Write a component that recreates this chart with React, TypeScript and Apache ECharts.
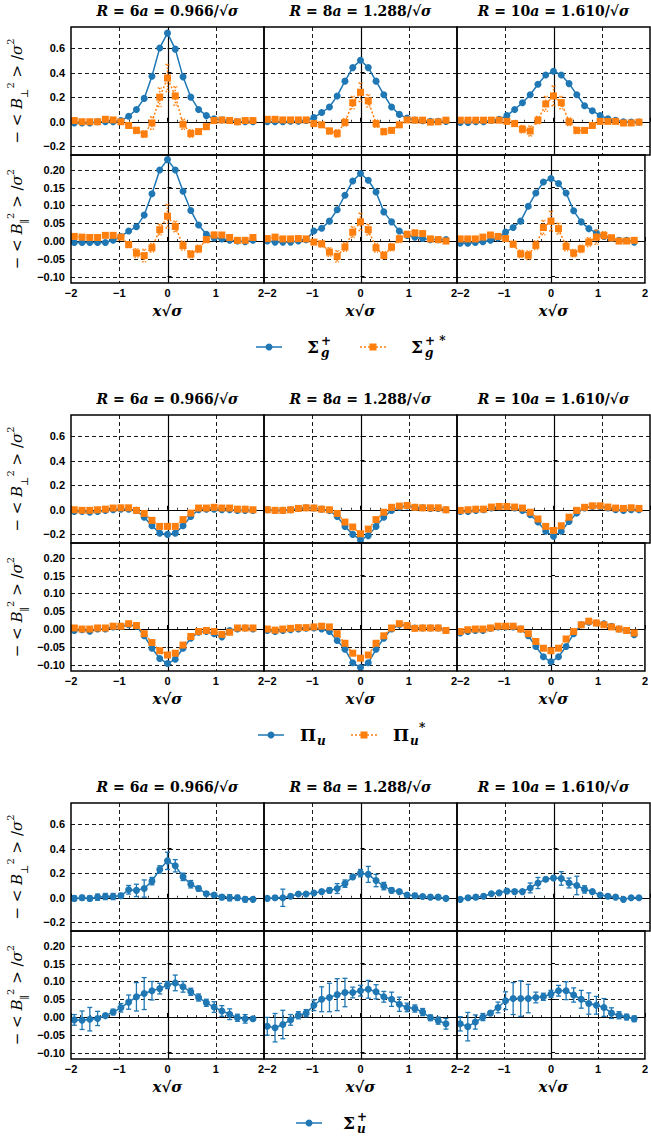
import React, { useEffect, useRef } from "react";
import * as echarts from "echarts";

// lattice positions x*sqrt(sigma) (k*a, a = 0.161)
const X_POS = [-1.932, -1.771, -1.61, -1.449, -1.288, -1.127, -0.966, -0.805, -0.644, -0.483, -0.322, -0.161, 0, 0.161, 0.322, 0.483, 0.644, 0.805, 0.966, 1.127, 1.288, 1.449, 1.61, 1.771];

const COL_TITLES = [
  ["6", "0.966"],
  ["8", "1.288"],
  ["10", "1.610"],
];
const Y_TICKS_PERP = [-0.2, 0, 0.2, 0.4, 0.6];
const Y_TICKS_PAR = [-0.1, -0.05, 0, 0.05, 0.1, 0.15, 0.2];

// ---------- Block 1 : Sigma_g^+ (blue) and Sigma_g^+* (orange) ----------
const SG_PERP_R6 = [-0.01, -0.01, -0.01, 0, 0, 0, 0.01, 0.045, 0.1, 0.19, 0.37, 0.6, 0.72, 0.59, 0.365, 0.2, 0.1, 0.05, 0.025, 0.015, 0.01, 0, 0, 0];
const SG_PERP_R8 = [0, 0, 0, 0.005, 0.005, 0.01, 0.035, 0.075, 0.12, 0.21, 0.33, 0.44, 0.5, 0.44, 0.33, 0.22, 0.12, 0.06, 0.03, 0.014, 0.008, 0.003, 0.003, 0.003];
const SG_PERP_R10 = [-0.005, -0.005, 0, 0, 0.013, 0.02, 0.05, 0.1, 0.155, 0.22, 0.305, 0.38, 0.41, 0.38, 0.31, 0.22, 0.13, 0.09, 0.05, 0.025, 0.013, 0, -0.003, -0.003];
const SGS_PERP_R6 = [0.01, 0, 0, 0, 0.02, 0.015, 0, -0.03, -0.07, -0.1, -0.01, 0.2, 0.355, 0.21, -0.02, -0.095, -0.08, -0.04, 0.01, 0.015, 0.01, 0, 0.01, 0.01];
const SGS_PERP_R8 = [0.02, 0.02, 0.015, 0.015, 0.015, 0.015, -0.015, -0.025, -0.075, -0.095, -0.005, 0.155, 0.24, 0.17, -0.015, -0.08, -0.07, -0.025, 0.015, 0.013, 0.013, -0.003, 0, 0.013];
const SGS_PERP_R10 = [0.013, 0.013, 0.013, 0.013, 0.013, 0.013, 0.003, -0.015, -0.06, -0.075, 0.013, 0.145, 0.21, 0.155, 0, -0.07, -0.07, -0.03, 0.003, 0.003, 0.003, -0.01, -0.01, -0.003];
const SGS_PERP_R6_ERR = [0.01, 0.01, 0.01, 0.01, 0.01, 0.01, 0.01, 0.015, 0.025, 0.025, 0.05, 0.075, 0.11, 0.075, 0.04, 0.03, 0.015, 0.015, 0.01, 0.01, 0.01, 0.01, 0.01, 0.01];
const SGS_PERP_R8_ERR = [0.01, 0.01, 0.01, 0.01, 0.01, 0.01, 0.015, 0.02, 0.025, 0.03, 0.03, 0.05, 0.075, 0.05, 0.03, 0.025, 0.02, 0.015, 0.01, 0.01, 0.01, 0.01, 0.01, 0.01];
const SGS_PERP_R10_ERR = [0.01, 0.01, 0.01, 0.01, 0.01, 0.01, 0.015, 0.02, 0.03, 0.04, 0.03, 0.06, 0.08, 0.05, 0.03, 0.025, 0.02, 0.015, 0.01, 0.01, 0.01, 0.01, 0.01, 0.01];

const SG_PAR_R6 = [-0.004, -0.004, -0.004, -0.004, -0.004, 0.002, 0.013, 0.028, 0.04, 0.073, 0.133, 0.2, 0.229, 0.2, 0.14, 0.086, 0.045, 0.019, 0.009, 0.006, 0.002, 0, -0.002, 0.002];
const SG_PAR_R8 = [0, -0.003, -0.003, -0.003, 0, 0.004, 0.028, 0.036, 0.056, 0.088, 0.129, 0.169, 0.19, 0.171, 0.138, 0.082, 0.054, 0.028, 0.016, 0.011, 0.007, 0.004, 0.004, 0.004];
const SG_PAR_R10 = [-0.006, -0.006, -0.004, -0.002, 0.002, 0.009, 0.025, 0.038, 0.056, 0.098, 0.135, 0.166, 0.176, 0.162, 0.135, 0.085, 0.054, 0.035, 0.023, 0.013, 0.007, 0.002, 0.002, -0.003];
const SGS_PAR_R6 = [0.013, 0.011, 0.01, 0.01, 0.016, 0.016, 0.011, -0.01, -0.034, -0.041, -0.019, 0.032, 0.07, 0.041, -0.013, -0.037, -0.022, 0.004, 0.017, 0.017, 0.01, 0.002, 0.002, 0.01];
const SGS_PAR_R8 = [0.007, 0.011, 0.006, 0.006, 0.007, 0.006, -0.003, -0.008, -0.031, -0.043, -0.017, 0.025, 0.054, 0.032, -0.019, -0.04, -0.017, 0.006, 0.019, 0.023, 0.021, 0.006, 0.004, 0];
const SGS_PAR_R10 = [0.006, 0.006, 0.006, 0.011, 0.017, 0.013, 0.007, -0.009, -0.036, -0.04, -0.012, 0.038, 0.056, 0.035, -0.015, -0.034, -0.022, -0.003, 0.011, 0.016, 0.009, 0, 0, 0.002];
const SGS_PAR_R6_ERR = [0.004, 0.004, 0.004, 0.004, 0.004, 0.004, 0.005, 0.008, 0.012, 0.017, 0.012, 0.015, 0.033, 0.015, 0.012, 0.01, 0.01, 0.008, 0.008, 0.005, 0.005, 0.005, 0.005, 0.005];
const SGS_PAR_R8_ERR = [0.004, 0.004, 0.004, 0.004, 0.004, 0.004, 0.006, 0.008, 0.012, 0.016, 0.012, 0.015, 0.024, 0.015, 0.012, 0.01, 0.01, 0.01, 0.008, 0.008, 0.005, 0.005, 0.005, 0.005];
const SGS_PAR_R10_ERR = [0.004, 0.004, 0.004, 0.004, 0.004, 0.004, 0.006, 0.008, 0.01, 0.012, 0.012, 0.02, 0.028, 0.015, 0.012, 0.01, 0.01, 0.012, 0.02, 0.01, 0.008, 0.005, 0.005, 0.005];

// ---------- Block 2 : Pi_u (blue) and Pi_u* (orange) ----------
const PU_PERP_R6 = [-0.014, -0.014, -0.02, -0.014, -0.006, 0, 0.005, 0.005, -0.005, -0.06, -0.13, -0.19, -0.2, -0.19, -0.13, -0.055, 0, 0.005, 0.005, 0, 0, -0.005, -0.005, -0.005];
const PU_PERP_R8 = [0, -0.005, -0.005, 0, 0.011, 0.016, 0.014, 0.005, -0.005, -0.055, -0.135, -0.2, -0.245, -0.21, -0.135, -0.06, -0.005, 0.02, 0.03, 0.02, 0.016, 0.011, 0.011, 0];
const PU_PERP_R10 = [-0.014, -0.014, -0.005, 0, 0.014, 0.022, 0.022, 0.014, -0.005, -0.04, -0.1, -0.175, -0.215, -0.175, -0.095, -0.027, 0.014, 0.027, 0.027, 0.014, 0, -0.005, 0, 0];
const PUS_PERP_R6 = [0, -0.005, -0.005, 0, 0.005, 0.014, 0.016, 0.016, -0.005, -0.03, -0.086, -0.135, -0.135, -0.135, -0.08, -0.027, 0.014, 0.014, 0.02, 0.014, 0.014, 0.005, 0.005, 0];
const PUS_PERP_R8 = [0, -0.005, -0.005, 0, 0.011, 0.016, 0.014, 0.005, 0, -0.03, -0.1, -0.14, -0.195, -0.157, -0.08, -0.02, 0.02, 0.03, 0.035, 0.02, 0.016, 0.016, 0.016, 0];
const PUS_PERP_R10 = [-0.005, 0, 0.005, 0.005, 0.022, 0.027, 0.027, 0.022, 0.014, -0.02, -0.075, -0.135, -0.168, -0.13, -0.06, -0.005, 0.02, 0.032, 0.032, 0.022, 0.014, 0.011, 0.016, 0.011];

const PU_PAR_R6 = [-0.004, -0.002, -0.006, 0, 0, 0.006, 0.008, 0.012, 0.008, -0.019, -0.054, -0.083, -0.097, -0.085, -0.054, -0.026, -0.009, -0.007, -0.013, -0.022, -0.004, 0, 0.003, 0];
const PU_PAR_R8 = [-0.004, -0.007, -0.004, -0.002, 0, 0.002, 0.003, 0, -0.007, -0.032, -0.057, -0.095, -0.108, -0.095, -0.057, -0.026, 0, 0.012, 0.01, 0.003, 0.003, 0.003, 0.003, -0.004];
const PU_PAR_R10 = [-0.011, -0.007, -0.004, -0.004, 0.002, 0.006, 0.006, 0.006, 0, -0.019, -0.049, -0.078, -0.092, -0.078, -0.049, -0.013, 0.012, 0.019, 0.017, 0.015, 0.008, 0, -0.004, -0.016];
const PUS_PAR_R6 = [0.003, 0, 0, 0.003, 0.003, 0.008, 0.008, 0.015, 0.01, -0.013, -0.038, -0.061, -0.073, -0.068, -0.045, -0.021, -0.007, -0.004, -0.007, -0.015, -0.009, 0.003, 0.003, 0.003];
const PUS_PAR_R8 = [0, -0.003, 0, 0.002, 0.004, 0.004, 0.006, 0.008, 0.006, -0.013, -0.04, -0.068, -0.082, -0.073, -0.04, -0.019, 0.003, 0.015, 0.01, 0.002, 0.003, 0.003, 0.003, -0.004];
const PUS_PAR_R10 = [-0.007, -0.002, 0, 0, 0.003, 0.008, 0.008, 0.008, 0, -0.013, -0.035, -0.054, -0.061, -0.054, -0.028, -0.007, 0.012, 0.022, 0.017, 0.012, 0.006, 0, -0.004, -0.011];

// ---------- Block 3 : Sigma_u^+ (blue, with error bars) ----------
const SU_PERP_R6 = [-0.005, 0, -0.005, 0.005, 0.01, 0.01, 0.016, 0.065, 0.06, 0.075, 0.135, 0.23, 0.3, 0.26, 0.17, 0.11, 0.075, 0.032, 0.022, 0.005, 0, 0, -0.013, -0.013];
const SU_PERP_R8 = [-0.005, 0, 0, 0.013, 0.03, 0.03, 0.038, 0.05, 0.06, 0.075, 0.115, 0.17, 0.2, 0.19, 0.14, 0.095, 0.06, 0.05, 0.022, 0.016, 0.011, 0.005, 0.005, -0.005];
const SU_PERP_R10 = [-0.013, 0, 0.005, 0.013, 0.032, 0.04, 0.054, 0.05, 0.05, 0.08, 0.12, 0.15, 0.16, 0.157, 0.12, 0.1, 0.068, 0.05, 0.022, 0.013, 0.005, -0.013, 0, 0];
const SU_PERP_R6_ERR = [0.02, 0.02, 0.02, 0.025, 0.025, 0.025, 0.02, 0.035, 0.05, 0.07, 0.03, 0.03, 0.07, 0.05, 0.03, 0.03, 0.02, 0.015, 0.015, 0.02, 0.025, 0.02, 0.02, 0.01];
const SU_PERP_R8_ERR = [0.01, 0.015, 0.07, 0.015, 0.01, 0.01, 0.01, 0.015, 0.02, 0.04, 0.03, 0.015, 0.03, 0.065, 0.05, 0.03, 0.02, 0.015, 0.015, 0.02, 0.015, 0.015, 0.015, 0.01];
const SU_PERP_R10_ERR = [0.01, 0.015, 0.015, 0.015, 0.01, 0.01, 0.015, 0.015, 0.015, 0.04, 0.045, 0.015, 0.015, 0.055, 0.04, 0.075, 0.03, 0.015, 0.01, 0.015, 0.01, 0.01, 0.01, 0.01];
const SU_PAR_R6 = [-0.008, -0.009, -0.006, -0.004, 0.004, 0.014, 0.026, 0.042, 0.057, 0.066, 0.074, 0.08, 0.09, 0.096, 0.085, 0.071, 0.055, 0.04, 0.028, 0.017, 0.008, -0.002, -0.005, -0.005];
const SU_PAR_R8 = [-0.026, -0.03, -0.021, -0.008, 0.005, 0.011, 0.033, 0.05, 0.055, 0.063, 0.069, 0.069, 0.074, 0.078, 0.071, 0.057, 0.05, 0.036, 0.027, 0.024, 0.014, -0.002, -0.01, -0.019];
const SU_PAR_R10 = [-0.019, -0.027, -0.014, 0, 0.011, 0.027, 0.046, 0.052, 0.052, 0.052, 0.055, 0.057, 0.065, 0.074, 0.074, 0.062, 0.05, 0.038, 0.033, 0.027, 0.011, 0.005, 0, -0.005];
const SU_PAR_R6_ERR = [0.015, 0.026, 0.033, 0.02, 0.005, 0.008, 0.012, 0.02, 0.04, 0.045, 0.026, 0.015, 0.01, 0.022, 0.015, 0.01, 0.01, 0.01, 0.015, 0.015, 0.015, 0.01, 0.012, 0.005];
const SU_PAR_R8_ERR = [0.025, 0.04, 0.04, 0.015, 0.01, 0.01, 0.015, 0.035, 0.04, 0.045, 0.04, 0.015, 0.015, 0.025, 0.02, 0.015, 0.02, 0.02, 0.012, 0.01, 0.01, 0.008, 0.01, 0.015];
const SU_PAR_R10_ERR = [0.02, 0.04, 0.02, 0.01, 0.005, 0.015, 0.025, 0.045, 0.05, 0.04, 0.015, 0.01, 0.01, 0.015, 0.025, 0.02, 0.025, 0.03, 0.025, 0.025, 0.015, 0.01, 0.008, 0.008];

const BLUE = "#1f77b4";
const ORANGE = "#ff7f0e";
const SERIF = "DejaVu Serif";
const SANS = "Liberation Sans";

// layout
const BLOCK_OFF = [0, 388, 776];
const COL_LEFT = [71, 264, 457];
const COL_W = 193;
const ROW_TOP = [27, 155];
const ROW_H = 128;
const RANGE_PERP = [-0.27, 0.77];
const RANGE_PAR = [-0.118, 0.242];

type Panel = { blue: number[]; blueErr?: number[]; orange?: number[]; orangeErr?: number[] };

const BLOCKS: Panel[][][] = [
  [
    [
      { blue: SG_PERP_R6, orange: SGS_PERP_R6, orangeErr: SGS_PERP_R6_ERR },
      { blue: SG_PERP_R8, orange: SGS_PERP_R8, orangeErr: SGS_PERP_R8_ERR },
      { blue: SG_PERP_R10, orange: SGS_PERP_R10, orangeErr: SGS_PERP_R10_ERR },
    ],
    [
      { blue: SG_PAR_R6, orange: SGS_PAR_R6, orangeErr: SGS_PAR_R6_ERR },
      { blue: SG_PAR_R8, orange: SGS_PAR_R8, orangeErr: SGS_PAR_R8_ERR },
      { blue: SG_PAR_R10, orange: SGS_PAR_R10, orangeErr: SGS_PAR_R10_ERR },
    ],
  ],
  [
    [
      { blue: PU_PERP_R6, orange: PUS_PERP_R6 },
      { blue: PU_PERP_R8, orange: PUS_PERP_R8 },
      { blue: PU_PERP_R10, orange: PUS_PERP_R10 },
    ],
    [
      { blue: PU_PAR_R6, orange: PUS_PAR_R6 },
      { blue: PU_PAR_R8, orange: PUS_PAR_R8 },
      { blue: PU_PAR_R10, orange: PUS_PAR_R10 },
    ],
  ],
  [
    [
      { blue: SU_PERP_R6, blueErr: SU_PERP_R6_ERR },
      { blue: SU_PERP_R8, blueErr: SU_PERP_R8_ERR },
      { blue: SU_PERP_R10, blueErr: SU_PERP_R10_ERR },
    ],
    [
      { blue: SU_PAR_R6, blueErr: SU_PAR_R6_ERR },
      { blue: SU_PAR_R8, blueErr: SU_PAR_R8_ERR },
      { blue: SU_PAR_R10, blueErr: SU_PAR_R10_ERR },
    ],
  ],
];

const minus = (s: string) => s.replace("-", "\u2212");

function gridLines(g: number, yTicks: number[]) {
  return {
    type: "custom",
    xAxisIndex: g,
    yAxisIndex: g,
    z: 1,
    silent: true,
    clip: false,
    data: [[0, 0]],
    renderItem: (params: any, api: any) => {
      const cs = params.coordSys;
      const children: any[] = [];
      [-1, 0, 1].forEach((xv) => {
        const px = Math.round(api.coord([xv, 0])[0]) + 0.5;
        const style: any = { stroke: "#000", lineWidth: xv === 0 ? 1.2 : 0.9 };
        if (xv !== 0) style.lineDash = [4, 3];
        children.push({ type: "line", shape: { x1: px, y1: cs.y, x2: px, y2: cs.y + cs.height }, style });
      });
      yTicks.forEach((yv) => {
        const py = Math.round(api.coord([0, yv])[1]) + 0.5;
        const style: any = { stroke: "#000", lineWidth: yv === 0 ? 1.2 : 0.9 };
        if (yv !== 0) style.lineDash = [4, 3];
        children.push({ type: "line", shape: { x1: cs.x, y1: py, x2: cs.x + cs.width, y2: py }, style });
      });
      return { type: "group", children };
    },
  };
}

function errorBars(g: number, vals: number[], errs: number[], color: string, dotted: boolean, z: number) {
  return {
    type: "custom",
    xAxisIndex: g,
    yAxisIndex: g,
    z,
    silent: true,
    clip: true,
    encode: { x: 0, y: 1 },
    data: X_POS.map((x, i) => [x, vals[i], errs[i]]),
    renderItem: (_params: any, api: any) => {
      const x = api.value(0);
      const y = api.value(1);
      const e = api.value(2);
      const t = api.coord([x, y + e]);
      const b = api.coord([x, y - e]);
      const style: any = { stroke: color, lineWidth: dotted ? 1.5 : 1.3 };
      if (dotted) style.lineDash = [1.5, 1.5];
      const cw = dotted ? 2 : 2.5;
      return {
        type: "group",
        children: [
          { type: "line", shape: { x1: t[0], y1: t[1], x2: b[0], y2: b[1] }, style },
          { type: "line", shape: { x1: t[0] - cw, y1: t[1], x2: t[0] + cw, y2: t[1] }, style },
          { type: "line", shape: { x1: b[0] - cw, y1: b[1], x2: b[0] + cw, y2: b[1] }, style },
        ],
      };
    },
  };
}

const MATH_RICH = {
  m: { fontFamily: SERIF, fontSize: 15, color: "#000", lineHeight: 24 },
  i: { fontFamily: SERIF, fontSize: 15, fontStyle: "italic", color: "#000", lineHeight: 24 },
  sup: { fontFamily: SERIF, fontSize: 10, color: "#000", verticalAlign: "top", lineHeight: 24 },
  sub: { fontFamily: SERIF, fontSize: 10, color: "#000", verticalAlign: "bottom", lineHeight: 24 },
};

function buildOption() {
  const grid: any[] = [];
  const xAxis: any[] = [];
  const yAxis: any[] = [];
  const series: any[] = [];
  const graphic: any[] = [];

  BLOCKS.forEach((block, b) => {
    const off = BLOCK_OFF[b];
    block.forEach((row, r) => {
      const yTicks = r === 0 ? Y_TICKS_PERP : Y_TICKS_PAR;
      const range = r === 0 ? RANGE_PERP : RANGE_PAR;
      row.forEach((panel, c) => {
        const g = grid.length;
        grid.push({
          left: COL_LEFT[c],
          top: off + ROW_TOP[r],
          width: COL_W,
          height: ROW_H,
          show: true,
          borderColor: "#000",
          borderWidth: 1.5,
          backgroundColor: "transparent",
          z: 5,
        });
        const xLabel: any = {
          show: r === 1,
          margin: 4,
          fontFamily: SANS,
          fontWeight: "bold",
          fontSize: 11,
          color: "#000",
          formatter: (v: number) => minus(String(v)),
        };
        if (c < 2) xLabel.alignMaxLabel = "right";
        if (c > 0) xLabel.alignMinLabel = "left";
        xAxis.push({
          gridIndex: g,
          type: "value",
          min: -2,
          max: 2,
          interval: 1,
          axisLine: { show: false },
          splitLine: { show: false },
          axisTick: { show: true, inside: true, length: 4, lineStyle: { color: "#000", width: 1 } },
          minorTick: { show: true, splitNumber: 5, length: 2, lineStyle: { color: "#000", width: 0.8 } },
          axisLabel: xLabel,
        });
        const yName =
          r === 0
            ? "{m|\u2212 < }{i|B}{sub|\u22a5}{sup|2}{m| > /}{i|\u03c3}{sup|2}"
            : "{m|\u2212 < }{i|B}{sub|\u2225}{sup|2}{m| > /}{i|\u03c3}{sup|2}";
        yAxis.push({
          gridIndex: g,
          type: "value",
          min: range[0],
          max: range[1],
          axisLine: { show: false },
          splitLine: { show: false },
          axisTick: { show: true, inside: true, length: 4, customValues: yTicks, lineStyle: { color: "#000", width: 1 } },
          axisLabel: {
            show: c === 0,
            customValues: yTicks,
            margin: 6,
            fontFamily: SANS,
            fontWeight: "bold",
            fontSize: 11,
            color: "#000",
            formatter: (v: number) => minus(v.toFixed(r === 0 ? 1 : 2)),
          },
          name: c === 0 ? yName : "",
          nameLocation: "middle",
          nameRotate: 90,
          nameGap: 42,
          nameTextStyle: { rich: MATH_RICH },
        });
        series.push(gridLines(g, yTicks));
        if (panel.blueErr) series.push(errorBars(g, panel.blue, panel.blueErr, BLUE, false, 3));
        series.push({
          type: "line",
          xAxisIndex: g,
          yAxisIndex: g,
          data: X_POS.map((x, i) => [x, panel.blue[i]]),
          symbol: "circle",
          symbolSize: 7,
          showSymbol: true,
          lineStyle: { color: BLUE, width: 1.5 },
          itemStyle: { color: BLUE },
          z: 3,
          silent: true,
        });
        if (panel.orange) {
          if (panel.orangeErr) series.push(errorBars(g, panel.orange, panel.orangeErr, ORANGE, true, 4));
          series.push({
            type: "line",
            xAxisIndex: g,
            yAxisIndex: g,
            data: X_POS.map((x, i) => [x, panel.orange![i]]),
            symbol: "rect",
            symbolSize: 7,
            showSymbol: true,
            lineStyle: { color: ORANGE, width: 1.5, type: [2, 2] },
            itemStyle: { color: ORANGE },
            z: 4,
            silent: true,
          });
        }
      });
    });

    // column titles and x titles
    COL_TITLES.forEach(([n, v], c) => {
      const cx = COL_LEFT[c] + COL_W / 2;
      graphic.push({
        type: "text",
        x: cx,
        y: off + 11,
        style: {
          text: `{i|R}{m| = ${n}}{i|a}{m| = ${v}/\u221a}{i|\u03c3}`,
          align: "center",
          verticalAlign: "middle",
          textAlign: "center",
          textVerticalAlign: "middle",
          rich: {
            m: { fontFamily: SERIF, fontSize: 14, fontWeight: "bold", color: "#000" },
            i: { fontFamily: SERIF, fontSize: 14, fontWeight: "bold", fontStyle: "italic", color: "#000" },
          },
        },
      });
      graphic.push({
        type: "text",
        x: cx,
        y: off + 311,
        style: {
          text: `{i|x}{m|\u221a}{i|\u03c3}`,
          align: "center",
          verticalAlign: "middle",
          textAlign: "center",
          textVerticalAlign: "middle",
          rich: {
            m: { fontFamily: SERIF, fontSize: 15, fontWeight: "bold", color: "#000" },
            i: { fontFamily: SERIF, fontSize: 15, fontWeight: "bold", fontStyle: "italic", color: "#000" },
          },
        },
      });
    });
  });

  // legends
  const txt = (x: number, y: number, text: string, font: string) => ({
    type: "text",
    x,
    y,
    style: { text, font, fill: "#000", align: "left", verticalAlign: "middle", textAlign: "left", textVerticalAlign: "middle" },
  });
  const sym = (x: number, y: number, color: string, square: boolean, dotted: boolean) => {
    const items: any[] = [];
    const ls: any = { stroke: color, lineWidth: 1.5 };
    if (dotted) ls.lineDash = [2, 2];
    items.push({ type: "line", shape: { x1: x - 13, y1: y, x2: x + 13, y2: y }, style: ls });
    if (square) items.push({ type: "rect", shape: { x: x - 3.5, y: y - 3.5, width: 7, height: 7 }, style: { fill: color } });
    else items.push({ type: "circle", shape: { cx: x, cy: y, r: 3.5 }, style: { fill: color } });
    return items;
  };
  const BASE_FONT = `bold 17px "${SERIF}"`;
  const SUB_FONT = `italic bold 12px "${SERIF}"`;
  const SUP_FONT = `bold 12px "${SERIF}"`;
  const L1 = BLOCK_OFF[0] + 347;
  graphic.push(...sym(269, L1, BLUE, false, false), txt(307, L1, "\u03a3", BASE_FONT), txt(321, L1 + 6, "g", SUB_FONT), txt(321, L1 - 6, "+", SUP_FONT));
  graphic.push(...sym(373, L1, ORANGE, true, true), txt(411, L1, "\u03a3", BASE_FONT), txt(425, L1 + 6, "g", SUB_FONT), txt(425, L1 - 6, "+ *", SUP_FONT));
  const L2 = BLOCK_OFF[1] + 347;
  graphic.push(...sym(271, L2, BLUE, false, false), txt(300, L2, "\u03a0", BASE_FONT), txt(317, L2 + 6, "u", SUB_FONT));
  graphic.push(...sym(364, L2, ORANGE, true, true), txt(393, L2, "\u03a0", BASE_FONT), txt(410, L2 + 6, "u", SUB_FONT), txt(419, L2 - 7, "*", SUP_FONT));
  const L3 = BLOCK_OFF[2] + 347;
  graphic.push(...sym(309, L3, BLUE, false, false), txt(343, L3, "\u03a3", BASE_FONT), txt(357, L3 + 6, "u", SUB_FONT), txt(357, L3 - 6, "+", SUP_FONT));

  return {
    animation: false,
    backgroundColor: "#fff",
    grid,
    xAxis,
    yAxis,
    series,
    graphic,
  };
}

export default function App() {
  const ref = useRef<HTMLDivElement>(null);
  useEffect(() => {
    document.body.style.margin = "0";
    const chart = echarts.init(ref.current!, undefined, { renderer: "svg" });
    chart.setOption(buildOption() as any);
    return () => chart.dispose();
  }, []);
  return <div ref={ref} style={{ position: "absolute", left: 0, top: 0, width: 651, height: 1137 }} />;
}
